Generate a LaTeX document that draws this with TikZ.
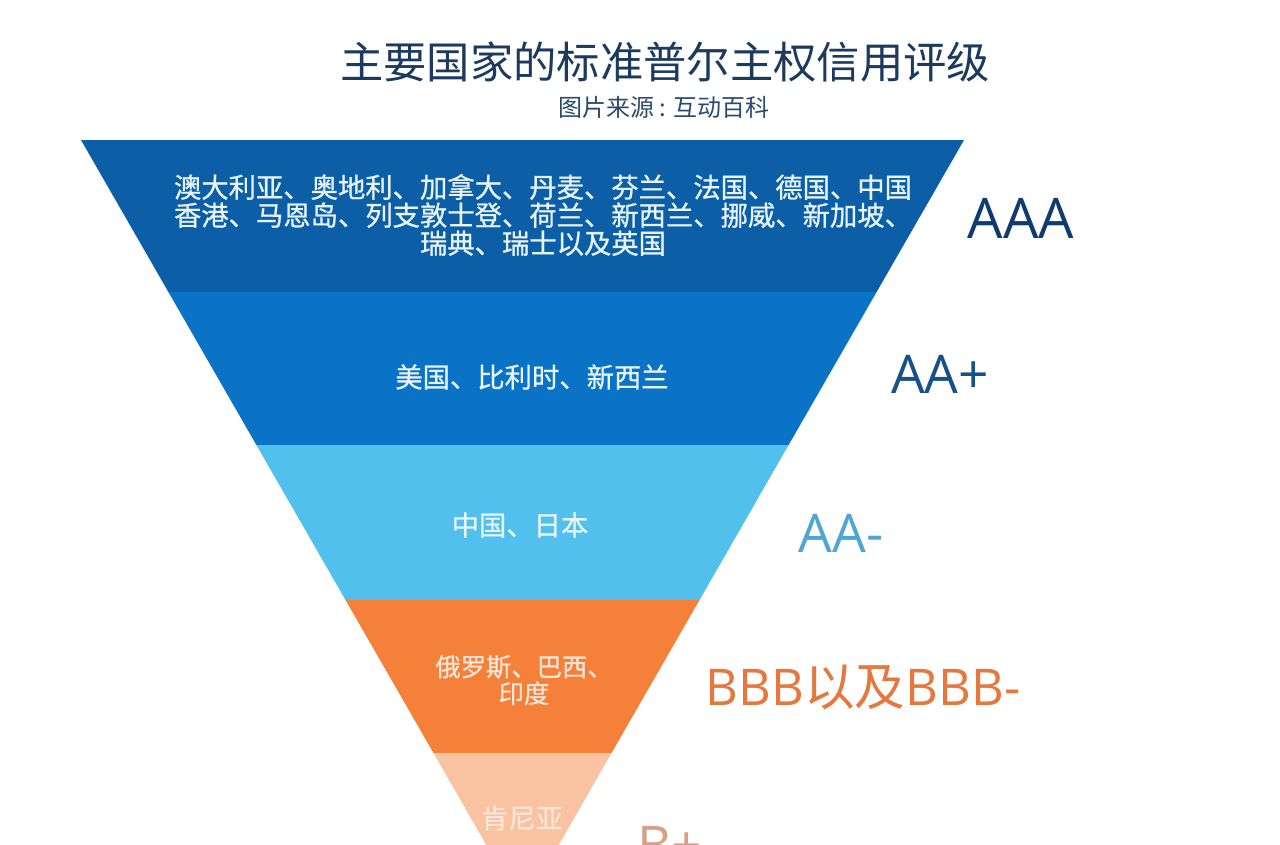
\documentclass[tikz,border=0pt]{standalone}
\usepackage{fontspec}
\setmainfont{Noto Sans CJK SC}
\newfontfamily\cjk{Noto Sans CJK SC}
\newfontfamily\cjkb[FakeBold=0.8]{Noto Sans CJK SC}
\newfontfamily\lat{Open Sans}
\definecolor{bandA}{HTML}{0C5FA7}
\definecolor{bandB}{HTML}{0A73C6}
\definecolor{bandC}{HTML}{52C0EC}
\definecolor{bandD}{HTML}{F5803A}
\definecolor{bandE}{HTML}{F9C2A0}
\definecolor{bandtext}{HTML}{E8F4FC}
\definecolor{warmtext}{HTML}{FBE6D8}
\definecolor{titlecol}{HTML}{1B3A5E}
\definecolor{subcol}{HTML}{2C4A6C}
\definecolor{rAAA}{HTML}{0F3C70}
\definecolor{rAAp}{HTML}{17508A}
\definecolor{rAAm}{HTML}{4FA6D6}
\definecolor{rBBB}{HTML}{E5783E}
\definecolor{rBp}{HTML}{D8A080}
\tikzset{
  bandtxt/.style={text=bandtext, align=center, inner sep=0pt,
    font=\cjkb\fontsize{20.5}{21}\selectfont},
  rating/.style={inner sep=0pt, anchor=base,
    font=\lat\fontsize{42}{44}\selectfont}
}
\begin{document}
\begin{tikzpicture}[x=0.75pt,y=-0.75pt]
\clip (0,0) rectangle (1280,844);
\fill[white] (0,0) rectangle (1280,844);
% bands
\fill[bandA] (81,140) -- (964,140) -- (876.6,292) -- (168.4,292) -- cycle;
\fill[bandB] (168.4,292) -- (876.6,292) -- (788.6,445) -- (256.4,445) -- cycle;
\fill[bandC] (256.4,445) -- (788.6,445) -- (699.5,600) -- (345.5,600) -- cycle;
\fill[bandD] (345.5,600) -- (699.5,600) -- (611.5,753) -- (433.5,753) -- cycle;
\fill[bandE] (433.5,753) -- (611.5,753) -- (522.5,908) -- cycle;
% title
\node[text=titlecol, font=\cjk\fontsize{32.5}{34}\selectfont, inner sep=0pt] (title) at (665,62) {主要国家的标准普尔主权信用评级};
\node[text=subcol, font=\cjk\fontsize{18}{20}\selectfont, inner sep=0pt] (sub) at (664,107) {图片来源 : 互动百科};
% band texts
\node[bandtxt] (t1) at (543,215) {澳大利亚、奥地利、加拿大、丹麦、芬兰、法国、德国、中国\\香港、马恩岛、列支敦士登、荷兰、新西兰、挪威、新加坡、\\瑞典、瑞士以及英国};
\node[bandtxt] (t2) at (532,377) {美国、比利时、新西兰};
\node[bandtxt] (t3) at (520,525) {中国、日本};
\node[bandtxt, text=warmtext, font=\cjkb\fontsize{19}{20}\selectfont] (t4) at (524,680) {俄罗斯、巴西、\\印度};
\node[bandtxt, text=warmtext] (t5) at (522,818) {肯尼亚};
% ratings
\node[rating, text=rAAA] (r1) at (1021,238) {AAA};
\node[rating, text=rAAp, font=\lat\fontsize{40}{42}\selectfont] (r2) at (940,393) {AA+};
\node[rating, text=rAAm, font=\lat\fontsize{40}{42}\selectfont] (r3) at (841,552) {AA-};
\node[rating, text=rBBB, font=\lat\fontsize{38}{40}\selectfont] (r4) at (863,705) {BBB{\cjk 以及}BBB-};
\node[rating, text=rBp, font=\lat\fontsize{40}{42}\selectfont, anchor=base west] (r5) at (637,864) {B+};
\end{tikzpicture}
\end{document}
